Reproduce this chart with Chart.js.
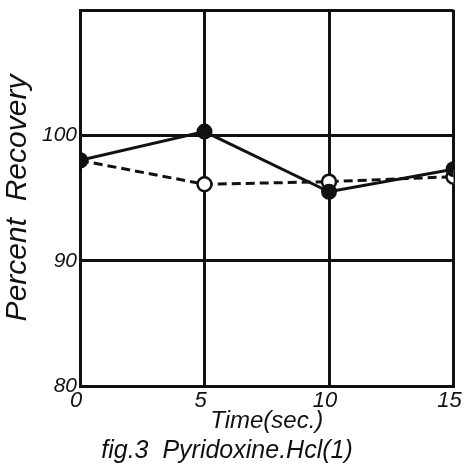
<!DOCTYPE html>
<html>
<head>
<meta charset="utf-8">
<script src="https://cdn.jsdelivr.net/npm/chart.js@4"></script>
<style>
  html, body { margin: 0; padding: 0; background: #fff; }
  #chart { display: block; }
</style>
</head>
<body>
<canvas id="chart" width="463" height="472"></canvas>
<script>
// time points (sec.) and percent recovery
const times = [0, 5, 10, 15];
const solidRecovery = [98.0, 100.3, 95.5, 97.3];
const dashedRecovery = [98.0, 96.1, 96.3, 96.7];
const yTicks = [80, 90, 100, 110];
const xTicks = [0, 5, 10, 15];

const ink = '#111';
const font = 'Liberation Sans, DejaVu Sans, sans-serif';

function toPoints(values) {
    return times.map((t, i) => ({x: t, y: values[i]}));
}

const ctx = document.getElementById('chart').getContext('2d');
new Chart(ctx, {
    type: 'line',
    data: {
        datasets: [{
            label: 'solid',
            data: toPoints(solidRecovery),
            borderColor: ink,
            borderWidth: 3,
            pointRadius: 7,
            pointBackgroundColor: ink,
            pointBorderColor: ink,
            pointBorderWidth: 2,
            tension: 0
        }, {
            label: 'dashed',
            data: toPoints(dashedRecovery),
            borderColor: ink,
            borderWidth: 3,
            borderDash: [9, 5],
            pointRadius: 7,
            pointBackgroundColor: [ink, '#fff', '#fff', '#fff'],
            pointBorderColor: ink,
            pointBorderWidth: 2.5,
            tension: 0
        }]
    },
    options: {
        responsive: false,
        animation: false,
        layout: {padding: {top: 10, right: 9, left: 0, bottom: 4}},
        plugins: {
            legend: {display: false},
            tooltip: {enabled: false},
            title: {
                display: true,
                position: 'bottom',
                text: 'fig.3  Pyridoxine.Hcl(1)',
                color: ink,
                font: {family: font, size: 25, style: 'italic', weight: 'normal'},
                padding: {top: 0, bottom: 2}
            }
        },
        scales: {
            x: {
                type: 'linear',
                min: 0,
                max: 15,
                afterBuildTicks: s => { s.ticks = xTicks.map(v => ({value: v})); },
                afterFit: s => { s.height = 50; s.paddingRight = 0; s.paddingLeft = 0; },
                ticks: {color: ink, font: {family: font, size: 22, style: 'italic'}, padding: 2, labelOffset: -4},
                grid: {color: ink, lineWidth: 3, drawTicks: false},
                border: {color: ink, width: 3},
                title: {
                    display: true,
                    text: 'Time(sec.)',
                    color: ink,
                    font: {family: font, size: 24, style: 'italic'},
                    padding: {top: 0, bottom: 0}
                }
            },
            y: {
                min: 80,
                max: 110,
                afterBuildTicks: s => { s.ticks = yTicks.map(v => ({value: v})); },
                afterFit: s => { s.width = 80; s.paddingTop = 0; s.paddingBottom = 0; },
                ticks: {
                    color: ink,
                    font: {family: font, size: 21, style: 'italic'},
                    padding: 3,
                    callback: v => (v === 110 ? '' : v)
                },
                grid: {color: ink, lineWidth: 3, drawTicks: false},
                border: {color: ink, width: 3},
                title: {
                    display: true,
                    text: 'Percent  Recovery',
                    color: ink,
                    font: {family: font, size: 30, style: 'italic'},
                    padding: {top: 0, bottom: 2}
                }
            }
        }
    }
});
</script>
</body>
</html>
